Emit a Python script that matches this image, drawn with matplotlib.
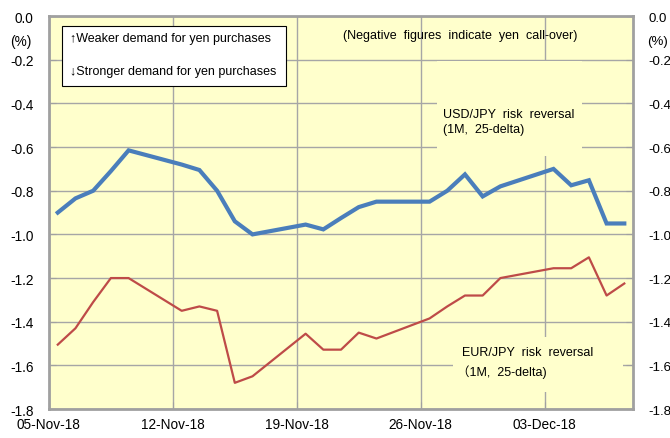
import numpy as np
import pandas as pd
import matplotlib
matplotlib.use("Agg")
import matplotlib.pyplot as plt
import matplotlib.dates as mdates
from matplotlib.patches import Rectangle

plt.rcParams["font.family"] = ["Liberation Sans", "Noto Sans CJK JP", "DejaVu Sans"]

# daily observations (business days)
dates = ["2018-11-05", "2018-11-06", "2018-11-07", "2018-11-08", "2018-11-09",
         "2018-11-12", "2018-11-13", "2018-11-14", "2018-11-15", "2018-11-16",
         "2018-11-19", "2018-11-20", "2018-11-21", "2018-11-22", "2018-11-23",
         "2018-11-26", "2018-11-27", "2018-11-28", "2018-11-29", "2018-11-30",
         "2018-12-03", "2018-12-04", "2018-12-05", "2018-12-06", "2018-12-07"]
usd_jpy = [-0.90, -0.835, -0.80, -0.71, -0.615,
           -0.68, -0.705, -0.80, -0.94, -1.00,
           -0.955, -0.977, -0.925, -0.875, -0.85,
           -0.85, -0.80, -0.725, -0.826, -0.78,
           -0.70, -0.775, -0.752, -0.95, -0.95]
eur_jpy = [-1.505, -1.43, -1.31, -1.20, -1.20,
           -1.35, -1.33, -1.35, -1.68, -1.65,
           -1.455, -1.528, -1.528, -1.45, -1.477,
           -1.385, -1.33, -1.28, -1.28, -1.20,
           -1.155, -1.155, -1.105, -1.28, -1.225]
tick_dates = ["2018-11-05", "2018-11-12", "2018-11-19", "2018-11-26", "2018-12-03"]
x_start, x_end = "2018-11-05", "2018-12-08"
y_ticks = [0.0, -0.2, -0.4, -0.6, -0.8, -1.0, -1.2, -1.4, -1.6, -1.8]

# Excel-style date axis: each point sits in the middle of its day
x = pd.to_datetime(dates) + pd.Timedelta(hours=12)

fig = plt.figure(figsize=(6.7, 4.39), dpi=100)
ax = fig.add_axes([0.073, 0.066, 0.872, 0.895])
ax.set_facecolor("#FFFFCC")

ax.plot(x, usd_jpy, color="#4A7EBB", lw=3.0, zorder=4, solid_joinstyle="miter")
ax.plot(x, eur_jpy, color="#BE4B48", lw=1.6, zorder=4)

ax.set_xlim(pd.Timestamp(x_start), pd.Timestamp(x_end))
ax.set_ylim(-1.8, 0.0)
ax.set_yticks(y_ticks)
ax.yaxis.set_major_formatter(matplotlib.ticker.FormatStrFormatter("%.1f"))
ax.set_xticks(pd.to_datetime(tick_dates))
ax.xaxis.set_major_formatter(mdates.DateFormatter("%d-%b-%y"))

ax.grid(True, color="#A6A6A6", lw=1.0, zorder=1)
ax.set_axisbelow(True)
for s in ax.spines.values():
    s.set_color("#A0A0A0")
    s.set_linewidth(2.0)

ax.tick_params(axis="both", direction="in", length=5, color="#A0A0A0",
               labelsize=9.8, labelcolor="black")
ax.tick_params(axis="y", pad=11, right=True, labelright=True)
ax.tick_params(axis="x", pad=6)
# right-hand copy of the scale, a touch smaller so it fits the edge
for t in ax.yaxis.get_major_ticks():
    t.label2.set_fontsize(9.5)

fig.text(10 / 670, 1 - 42 / 439, "(%)", fontsize=9.8, va="center", ha="left")
fig.text(647 / 670, 1 - 42 / 439, "(%)", fontsize=9.5, va="center", ha="left")

# direction note box
ax.add_patch(Rectangle((0.022, 0.822), 0.384, 0.153, transform=ax.transAxes,
                       facecolor="white", edgecolor="black", lw=0.8, zorder=5))
ax.text(0.036, 0.944, "\u2191Weaker demand for yen purchases", transform=ax.transAxes,
        fontsize=9, va="center", zorder=6)
ax.text(0.036, 0.860, "\u2193Stronger demand for yen purchases", transform=ax.transAxes,
        fontsize=9, va="center", zorder=6)

ax.text(0.704, 0.952, "(Negative  figures  indicate  yen  call-over)",
        transform=ax.transAxes, fontsize=9, ha="center", va="center", zorder=6)

# series labels on background-coloured panels
ax.add_patch(Rectangle((0.664, 0.644), 0.249, 0.241, transform=ax.transAxes,
                       facecolor="#FFFFCC", edgecolor="none", zorder=2))
ax.text(0.675, 0.751, "USD/JPY  risk  reversal", transform=ax.transAxes,
        fontsize=9, va="center", zorder=6)
ax.text(0.675, 0.712, "(1M,  25-delta)", transform=ax.transAxes,
        fontsize=9, va="center", zorder=6)

ax.add_patch(Rectangle((0.692, 0.043), 0.291, 0.140, transform=ax.transAxes,
                       facecolor="#FFFFCC", edgecolor="none", zorder=2))
ax.text(0.707, 0.145, "EUR/JPY  risk  reversal", transform=ax.transAxes,
        fontsize=9, va="center", zorder=6)
ax.text(0.699, 0.097, "\uff081M,  25-delta)", transform=ax.transAxes,
        fontsize=9, va="center", zorder=6)

fig.savefig("out.png", dpi=100)
